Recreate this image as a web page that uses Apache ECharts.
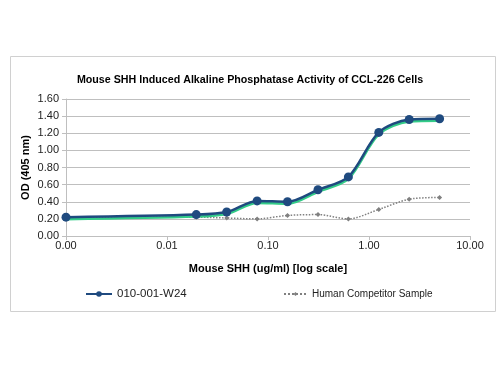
<!DOCTYPE html>
<html>
<head>
<meta charset="utf-8">
<script src="https://cdn.jsdelivr.net/npm/echarts@6/dist/echarts.min.js"></script>
<style>
  html, body { margin: 0; padding: 0; background: #fff; }
  #chart { width: 500px; height: 375px; }
</style>
</head>
<body>
<div id="chart"></div>
<script>
// dose in ug/ml (first point is the blank, drawn at the axis minimum)
const doses = [0.001, 0.0195, 0.039, 0.078, 0.156, 0.3125, 0.625, 1.25, 2.5, 5]
const w24 = [0.22, 0.25, 0.28, 0.41, 0.40, 0.54, 0.69, 1.21, 1.36, 1.37]
const competitor = [0.21, 0.22, 0.21, 0.20, 0.24, 0.25, 0.20, 0.31, 0.43, 0.45]

const pairs = (ys) => doses.map((d, i) => [d, ys[i]])

const font = 'Liberation Sans, Arial, sans-serif'
const chart = echarts.init(document.getElementById('chart'))

chart.setOption({
  animation: false,
  textStyle: { fontFamily: font },
  title: {
    text: 'Mouse SHH Induced Alkaline Phosphatase Activity of CCL-226 Cells',
    left: 'center',
    top: 70,
    textStyle: { fontSize: 10.7, fontWeight: 'bold', color: '#000', fontFamily: font },
  },
  graphic: [{
    type: 'rect',
    shape: { x: 10.5, y: 56.5, width: 485, height: 255 },
    style: { fill: 'none', stroke: '#d0d0d0', lineWidth: 1 },
    silent: true,
  }],
  grid: { left: 66, right: 30, top: 99, bottom: 139 },
  legend: [
    {
      data: ['010-001-W24'],
      left: 80,
      top: 283,
      itemWidth: 26,
      itemHeight: 7,
      itemGap: 0,
      textStyle: { fontSize: 11.5, color: '#222', fontFamily: font },
    },
    {
      data: ['Human Competitor Sample'],
      left: 278,
      top: 284,
      itemWidth: 23,
      itemHeight: 5,
      textStyle: { fontSize: 10, color: '#222', fontFamily: font },
    },
  ],
  xAxis: {
    type: 'log',
    logBase: 10,
    min: 0.001,
    max: 10,
    name: 'Mouse SHH (ug/ml) [log scale]',
    nameLocation: 'middle',
    nameGap: 27,
    nameTextStyle: { fontSize: 11, fontWeight: 'bold', color: '#000', fontFamily: font },
    axisLine: { lineStyle: { color: '#bfbfbf' } },
    axisTick: { show: true, length: 4, lineStyle: { color: '#bfbfbf' } },
    axisLabel: { fontSize: 11, color: '#222', margin: 4, formatter: (v) => v.toFixed(2) },
    splitLine: { show: false },
    minorTick: { show: false },
  },
  yAxis: {
    type: 'value',
    min: 0,
    max: 1.6,
    interval: 0.2,
    name: 'OD (405 nm)',
    nameLocation: 'middle',
    nameGap: 35,
    nameMoveOverlap: false,
    nameTextStyle: { fontSize: 11, fontWeight: 'bold', color: '#000', fontFamily: font },
    axisLine: { show: true, lineStyle: { color: '#bfbfbf' } },
    axisTick: { show: true, length: 4, lineStyle: { color: '#bfbfbf' } },
    axisLabel: { fontSize: 11, color: '#222', margin: 7, formatter: (v) => v.toFixed(2) },
    splitLine: { lineStyle: { color: '#bfbfbf', width: 1 } },
  },
  series: [
    {
      name: 'Human Competitor Sample',
      type: 'line',
      data: pairs(competitor),
      smooth: 0.3,
      symbol: 'diamond',
      symbolSize: 5,
      itemStyle: { color: '#808080' },
      lineStyle: { color: '#808080', width: 1.5, type: 'dotted' },
    },
    {
      name: '010-001-W24',
      type: 'line',
      data: pairs(w24),
      smooth: 0.3,
      symbol: 'circle',
      symbolSize: 9,
      itemStyle: { color: '#1f4a7f' },
      lineStyle: {
        color: '#1f4a7f',
        width: 2.5,
        shadowColor: '#33cc88',
        shadowOffsetY: 2,
        shadowBlur: 0,
      },
    },
  ],
})
</script>
</body>
</html>
